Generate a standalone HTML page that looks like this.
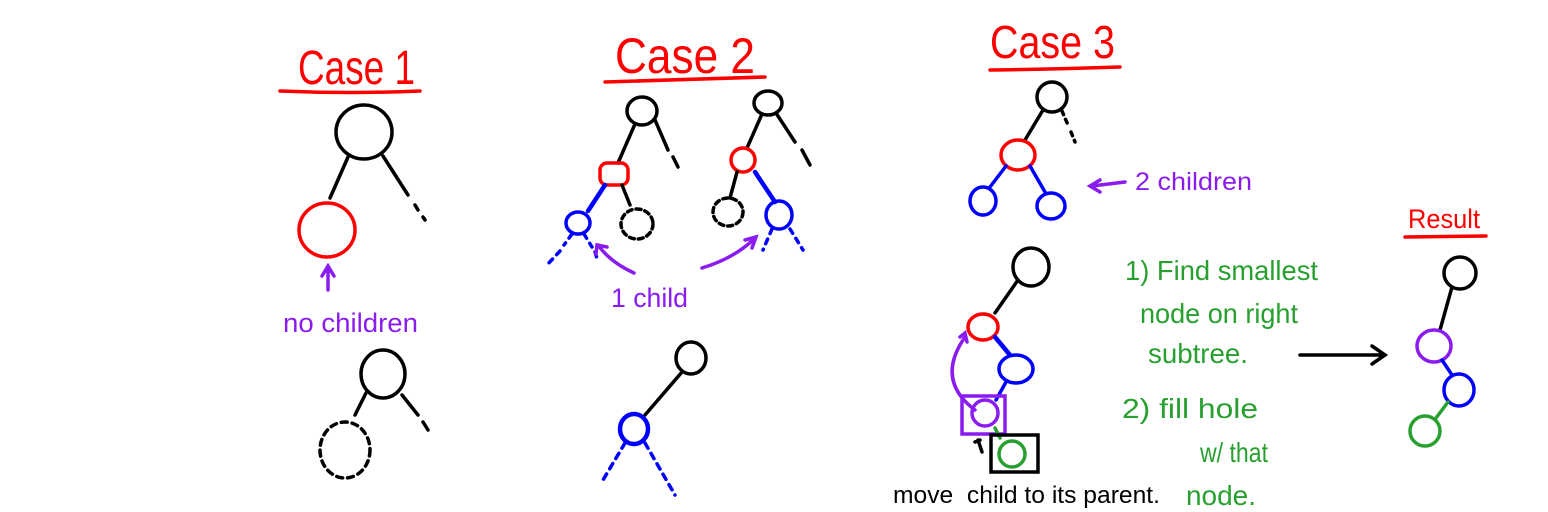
<!DOCTYPE html>
<html><head><style>html,body{margin:0;padding:0;background:#fff}svg{display:block}</style></head>
<body>
<svg width="1548" height="512" viewBox="0 0 1548 512" xmlns="http://www.w3.org/2000/svg" font-family="Liberation Sans, sans-serif" fill="none" stroke-width="3.5" stroke-linecap="round">
<!-- Case 1 -->
<text x="298" y="84" font-size="48" fill="#f00" stroke="none" textLength="117" lengthAdjust="spacingAndGlyphs">Case 1</text>
<path d="M280 91 Q350 94 420 91" stroke="#f00"/>
<ellipse cx="364" cy="132" rx="28" ry="27" stroke="#000"/>
<path d="M348 157 L330 198" stroke="#000"/>
<path d="M383 156 L408 195" stroke="#000"/>
<path d="M415 205 L418 210 M423 217 L425 220" stroke="#000"/>
<ellipse cx="327" cy="230" rx="28" ry="27" stroke="#f00"/>
<path d="M328 290 L328 268 M322 276 L328 266 L334 276" stroke="#8a1cf0"/>
<text x="283" y="332" font-size="27" fill="#8a1cf0" stroke="none" textLength="135" lengthAdjust="spacingAndGlyphs">no children</text>
<ellipse cx="383" cy="374" rx="22" ry="24" stroke="#000"/>
<path d="M366 393 L355 415" stroke="#000"/>
<path d="M402 395 L418 415 M423 422 L428 430" stroke="#000"/>
<ellipse cx="345" cy="450" rx="25" ry="28" stroke="#000" stroke-dasharray="6 5"/>
<!-- Case 2 -->
<text x="615" y="73" font-size="50" fill="#f00" stroke="none" textLength="140" lengthAdjust="spacingAndGlyphs">Case 2</text>
<path d="M605 82 Q690 79 765 77" stroke="#f00"/>
<ellipse cx="642" cy="111" rx="15" ry="14" stroke="#000"/>
<path d="M635 124 L618 163" stroke="#000"/>
<path d="M655 120 L668 150 M673 157 L678 167" stroke="#000"/>
<rect x="600" y="163" width="28" height="22" rx="7" stroke="#f00"/>
<path d="M605 185 L588 211" stroke="#00f" stroke-width="4.5"/>
<path d="M622 185 L630 205" stroke="#000"/>
<ellipse cx="578" cy="223" rx="12" ry="11" stroke="#00f"/>
<ellipse cx="637" cy="224" rx="16" ry="15" stroke="#000" stroke-dasharray="5 4"/>
<path d="M572 234 L564 245 M560 251 L547 265 M584 234 L592 247 M595 252 L598 262" stroke="#00f" stroke-dasharray="5 6"/>
<ellipse cx="768" cy="103" rx="14" ry="12" stroke="#000"/>
<path d="M762 114 L747 148" stroke="#000"/>
<path d="M776 113 L795 142 M802 150 L810 165" stroke="#000"/>
<ellipse cx="743" cy="160" rx="12" ry="12" stroke="#f00"/>
<path d="M737 172 L730 198" stroke="#000"/>
<path d="M755 172 L775 202" stroke="#00f" stroke-width="4.5"/>
<ellipse cx="728" cy="212" rx="15" ry="14" stroke="#000" stroke-dasharray="5 4"/>
<ellipse cx="779" cy="215" rx="13" ry="14" stroke="#00f"/>
<path d="M772 229 L763 250 M790 229 L803 250" stroke="#00f" stroke-dasharray="5 6"/>
<path d="M634 273 Q610 262 598 245 M596 254 L597 245 L607 247" stroke="#8a1cf0"/>
<path d="M702 268 Q735 258 755 238 M745 240 L756 237 L752 248" stroke="#8a1cf0"/>
<text x="611" y="307" font-size="27" fill="#8a1cf0" stroke="none" textLength="77" lengthAdjust="spacingAndGlyphs">1 child</text>
<ellipse cx="691" cy="358" rx="15" ry="16" stroke="#000"/>
<path d="M682 372 L645 415" stroke="#000"/>
<ellipse cx="634" cy="429" rx="14" ry="15" stroke="#00f" stroke-width="4.5"/>
<path d="M625 443 L603 480 M645 443 L675 495" stroke="#00f" stroke-dasharray="6 6"/>
<!-- Case 3 -->
<text x="990" y="58" font-size="46" fill="#f00" stroke="none" textLength="125" lengthAdjust="spacingAndGlyphs">Case 3</text>
<path d="M990 70 Q1060 69 1120 67" stroke="#f00"/>
<ellipse cx="1052" cy="97" rx="15" ry="15" stroke="#000"/>
<path d="M1043 110 L1025 140" stroke="#000"/>
<path d="M1062 111 L1068 125 M1071 132 L1075 142" stroke="#000" stroke-dasharray="4 5"/>
<ellipse cx="1018" cy="155" rx="17" ry="15" stroke="#f00"/>
<path d="M1006 166 L990 187" stroke="#00f"/>
<path d="M1030 166 L1045 192" stroke="#00f"/>
<ellipse cx="983" cy="201" rx="13" ry="14" stroke="#00f"/>
<ellipse cx="1051" cy="206" rx="14" ry="13" stroke="#00f"/>
<path d="M1125 182 L1092 186 M1100 180 L1090 186 L1100 192" stroke="#8a1cf0"/>
<text x="1135" y="190" font-size="25" fill="#8a1cf0" stroke="none" textLength="117" lengthAdjust="spacingAndGlyphs">2 children</text>
<ellipse cx="1031" cy="267" rx="18" ry="19" stroke="#000"/>
<path d="M1018 280 L995 313" stroke="#000"/>
<ellipse cx="983" cy="327" rx="15" ry="13" stroke="#f00"/>
<path d="M995 337 L1010 355" stroke="#00f" stroke-width="4.5"/>
<ellipse cx="1016" cy="369" rx="17" ry="14" stroke="#00f"/>
<path d="M1006 382 L996 400" stroke="#00f"/>
<rect x="962" y="396" width="43" height="38" stroke="#8a1cf0"/>
<ellipse cx="985" cy="413" rx="13" ry="13" stroke="#8a1cf0"/>
<path d="M995 428 L1000 438" stroke="#28a030"/>
<rect x="991" y="435" width="47" height="37" stroke="#000"/>
<ellipse cx="1012" cy="454" rx="13" ry="13" stroke="#28a030"/>
<path d="M975 410 Q935 380 965 337 M960 337 L965 333 L967 342" stroke="#8a1cf0"/>
<path d="M978 440 L982 452 M975 442 L980 440" stroke="#000"/>
<text x="893" y="503" font-size="24" fill="#000" stroke="none" textLength="267" lengthAdjust="spacingAndGlyphs">move&#160;&#160;child to its parent.</text>
<g font-size="28" fill="#28a030" stroke="none">
<text x="1125" y="280" textLength="193" lengthAdjust="spacingAndGlyphs">1) Find smallest</text>
<text x="1140" y="323" textLength="158" lengthAdjust="spacingAndGlyphs">node on right</text>
<text x="1148" y="363" textLength="100" lengthAdjust="spacingAndGlyphs">subtree.</text>
<text x="1122" y="418" textLength="136" lengthAdjust="spacingAndGlyphs">2) fill hole</text>
<text x="1200" y="462" textLength="68" lengthAdjust="spacingAndGlyphs">w/ that</text>
<text x="1186" y="505" textLength="70" lengthAdjust="spacingAndGlyphs">node.</text>
</g>
<path d="M1300 355 L1385 355 M1372 346 L1385 355 L1372 364" stroke="#000"/>
<!-- Result -->
<text x="1408" y="228" font-size="27" fill="#f00" stroke="none" textLength="72" lengthAdjust="spacingAndGlyphs">Result</text>
<path d="M1405 237 L1486 236" stroke="#f00"/>
<ellipse cx="1460" cy="273" rx="16" ry="16" stroke="#000"/>
<path d="M1452 287 L1440 330" stroke="#000"/>
<ellipse cx="1434" cy="346" rx="17" ry="16" stroke="#8a1cf0"/>
<path d="M1442 360 L1452 375" stroke="#00f"/>
<ellipse cx="1459" cy="390" rx="15" ry="16" stroke="#00f"/>
<path d="M1448 402 L1436 418" stroke="#28a030"/>
<ellipse cx="1425" cy="431" rx="15" ry="15" stroke="#28a030"/>
</svg>
</body></html>
